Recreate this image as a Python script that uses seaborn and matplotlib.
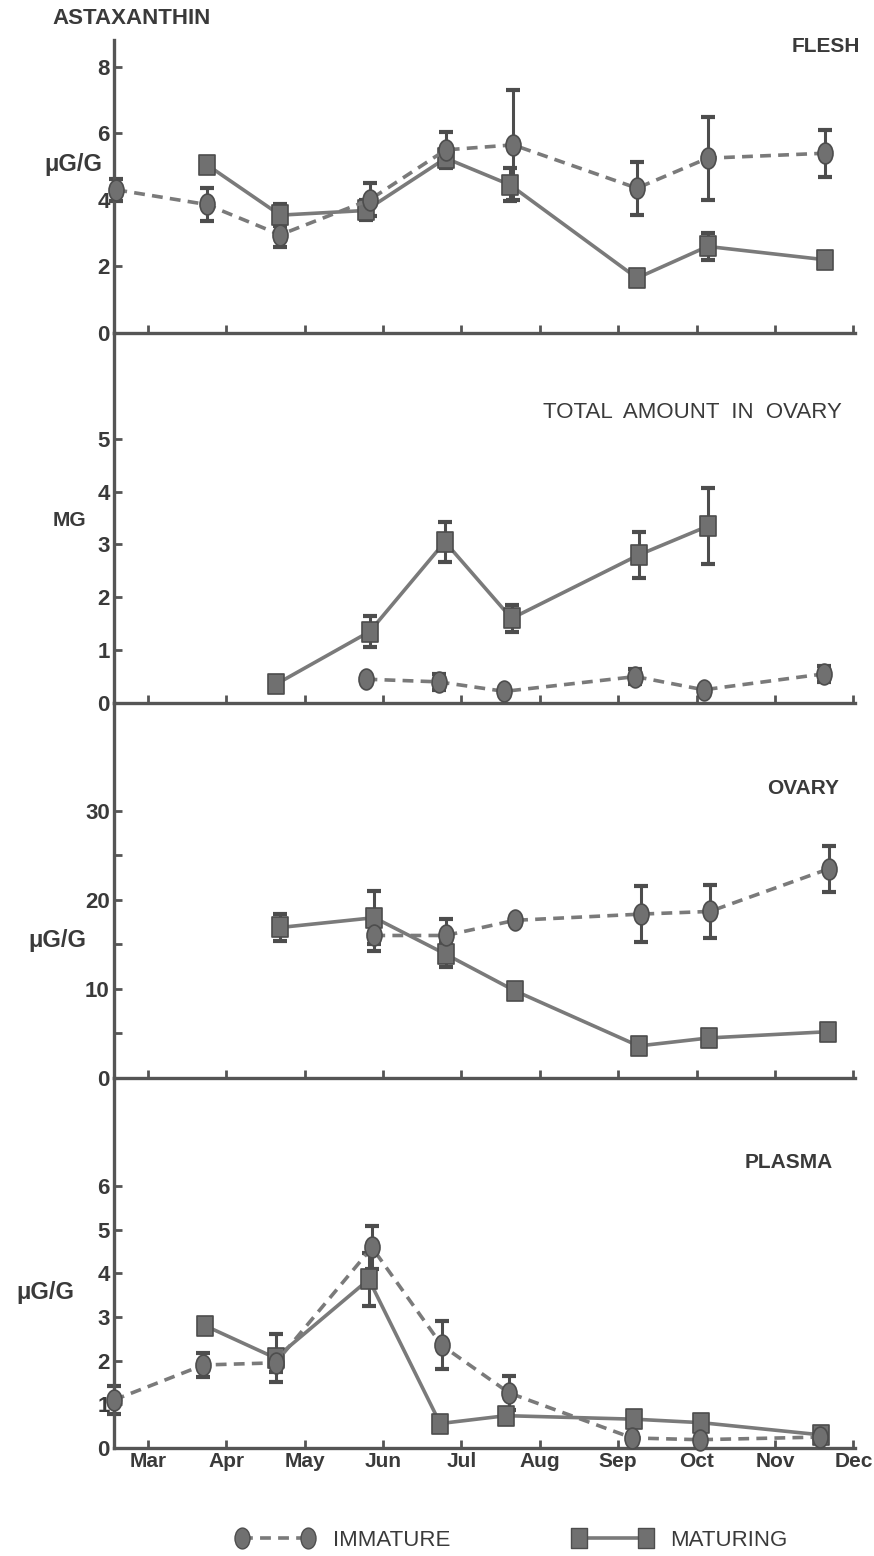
import numpy as np
import matplotlib
matplotlib.use('Agg')
import matplotlib.pyplot as plt
import matplotlib.transforms as mtrans
from matplotlib.path import Path
from matplotlib.lines import Line2D
import seaborn as sns

# month axis (3 = Mar ... 12 = Dec), sample dates are fractional months
month_ticks = [3, 4, 5, 6, 7, 8, 9, 10, 11, 12]
month_labels = ['Mar', 'Apr', 'May', 'Jun', 'Jul', 'Aug', 'Sep', 'Oct', 'Nov', 'Dec']

# FLESH (ug/g)
flesh_imm_x = [2.6, 3.75, 4.69, 5.83, 6.8, 7.66, 9.24, 10.14, 11.64]
flesh_imm_y = [4.3, 3.86, 2.95, 4.0, 5.5, 5.65, 4.35, 5.25, 5.4]
flesh_imm_e = [0.33, 0.5, 0.38, 0.5, 0.55, 1.65, 0.8, 1.25, 0.7]
flesh_mat_x = [3.75, 4.69, 5.78, 6.8, 7.62, 9.24, 10.14, 11.64]
flesh_mat_y = [5.06, 3.54, 3.68, 5.25, 4.45, 1.65, 2.6, 2.2]
flesh_mat_e = [0, 0.34, 0.3, 0, 0.5, 0, 0.4, 0]

# TOTAL AMOUNT IN OVARY (mg)
total_imm_x = [5.79, 6.71, 7.55, 9.22, 10.09, 11.62]
total_imm_y = [0.45, 0.4, 0.22, 0.5, 0.25, 0.55]
total_imm_e = [0, 0.15, 0, 0.15, 0, 0.15]
total_mat_x = [4.63, 5.83, 6.79, 7.64, 9.26, 10.15]
total_mat_y = [0.35, 1.35, 3.05, 1.6, 2.8, 3.35]
total_mat_e = [0, 0.3, 0.38, 0.25, 0.43, 0.72]

# OVARY (ug/g)
ovary_imm_x = [5.89, 6.8, 7.68, 9.29, 10.17, 11.69]
ovary_imm_y = [16.0, 16.0, 17.7, 18.4, 18.7, 23.5]
ovary_imm_e = [1.7, 1.9, 0, 3.1, 3.0, 2.6]
ovary_mat_x = [4.69, 5.89, 6.8, 7.68, 9.26, 10.16, 11.68]
ovary_mat_y = [16.9, 18.0, 13.9, 9.8, 3.6, 4.5, 5.2]
ovary_mat_e = [1.5, 3.0, 1.4, 0, 0, 0, 0]

# PLASMA (ug/g)
plasma_imm_x = [2.57, 3.71, 4.63, 5.86, 6.75, 7.61, 9.18, 10.04, 11.57]
plasma_imm_y = [1.1, 1.9, 1.95, 4.59, 2.35, 1.26, 0.23, 0.19, 0.25]
plasma_imm_e = [0.32, 0.28, 0.2, 0.5, 0.55, 0.38, 0, 0, 0]
plasma_mat_x = [3.73, 4.63, 5.82, 6.73, 7.57, 9.2, 10.06, 11.59]
plasma_mat_y = [2.8, 2.06, 3.86, 0.56, 0.74, 0.66, 0.58, 0.3]
plasma_mat_e = [0, 0.54, 0.6, 0, 0, 0, 0, 0]

W, H = 874, 1556
INK = '#3a3a3a'
LINE = '#7a7a7a'
FILL = '#707070'
EDGE = '#4d4d4d'

ellipse = Path.unit_circle().transformed(mtrans.Affine2D().scale(0.72, 1.0))
rect = Path([(-0.4, -0.5), (0.4, -0.5), (0.4, 0.5), (-0.4, 0.5), (-0.4, -0.5)],
            [Path.MOVETO, Path.LINETO, Path.LINETO, Path.LINETO, Path.CLOSEPOLY])

sns.set_style('ticks')
plt.rcParams['font.family'] = ['Liberation Sans', 'DejaVu Sans']

fig = plt.figure(figsize=(W / 100, H / 100), dpi=100)


def px_text(x, y, s, ha='left', size=14, weight='bold'):
    fig.text(x / W, 1 - y / H, s, ha=ha, va='center', fontsize=size,
             fontweight=weight, color=INK)


def draw_series(ax, xs, ys, es, dashed):
    xs, ys, es = np.array(xs), np.array(ys), np.array(es)
    m = es > 0
    ax.errorbar(xs[m], ys[m], yerr=es[m], fmt='none', ecolor=EDGE,
                elinewidth=2.2, capsize=5, capthick=3, zorder=2, clip_on=False)
    sns.lineplot(x=xs, y=ys, ax=ax, sort=False, color=LINE, lw=2.6,
                 linestyle=(0, (3, 2)) if dashed else '-',
                 marker=ellipse if dashed else rect,
                 markersize=15 if dashed else 14,
                 markerfacecolor=FILL, markeredgecolor=EDGE, markeredgewidth=1.2,
                 zorder=3, clip_on=False)


# panel extents in pixels: (top, bottom), ylim top, ticks, tick labels
panels = [
    (40, 333, 8.8, [0, 2, 4, 6, 8], ['0', '2', '4', '6', '8'],
     flesh_imm_x, flesh_imm_y, flesh_imm_e, flesh_mat_x, flesh_mat_y, flesh_mat_e),
    (333, 703, 7.0, [0, 1, 2, 3, 4, 5], ['0', '1', '2', '3', '4', '5'],
     total_imm_x, total_imm_y, total_imm_e, total_mat_x, total_mat_y, total_mat_e),
    (703, 1078, 42.1, [0, 5, 10, 15, 20, 25, 30], ['0', '', '10', '', '20', '', '30'],
     ovary_imm_x, ovary_imm_y, ovary_imm_e, ovary_mat_x, ovary_mat_y, ovary_mat_e),
    (1078, 1448, 8.47, [0, 1, 2, 3, 4, 5, 6], ['0', '1', '2', '3', '4', '5', '6'],
     plasma_imm_x, plasma_imm_y, plasma_imm_e, plasma_mat_x, plasma_mat_y, plasma_mat_e),
]

left_px, right_px = 114, 855
axes = []
for i, (top, bot, ytop, yt, ytl, ix, iy, ie, mx, my, me) in enumerate(panels):
    ax = fig.add_axes([left_px / W, 1 - bot / H, (right_px - left_px) / W, (bot - top) / H])
    ax.set_facecolor('none')
    draw_series(ax, mx, my, me, dashed=False)
    draw_series(ax, ix, iy, ie, dashed=True)
    ax.set_xlim(2.57, 12.02)
    ax.set_ylim(0, ytop)
    sns.despine(ax=ax)
    for sp in ['left', 'bottom']:
        ax.spines[sp].set_linewidth(2.4)
        ax.spines[sp].set_color('#555555')
    ax.set_yticks(yt)
    ax.set_yticklabels(ytl)
    ax.set_xticks(month_ticks)
    ax.tick_params(axis='both', direction='in', length=6, width=2, color='#555555',
                   labelsize=16, labelcolor=INK, pad=3)
    for lab in ax.get_yticklabels():
        lab.set_fontweight('bold')
    if i < 3:
        ax.set_xticklabels([])
    else:
        ax.set_xticklabels(month_labels, fontweight='bold', fontsize=15)
    ax.set_xlabel('')
    ax.set_ylabel('')
    axes.append(ax)

px_text(52, 18, 'ASTAXANTHIN', size=16)
px_text(860, 46, 'FLESH', ha='right', size=15)
px_text(73, 165, 'μG/G', ha='center', size=17)
px_text(842, 413, 'TOTAL  AMOUNT  IN  OVARY', ha='right', size=16, weight='normal')
px_text(69, 520, 'MG', ha='center', size=15)
px_text(839, 788, 'OVARY', ha='right', size=15)
px_text(57, 940, 'μG/G', ha='center', size=17)
px_text(833, 1162, 'PLASMA', ha='right', size=15)
px_text(45, 1292, 'μG/G', ha='center', size=17)

handles = [
    Line2D([0], [0], color=LINE, lw=2.6, linestyle=(0, (3, 2)), marker=ellipse,
           markersize=15, markerfacecolor=FILL, markeredgecolor=EDGE),
    Line2D([0], [0], color=LINE, lw=2.6, linestyle='-', marker=rect,
           markersize=14, markerfacecolor=FILL, markeredgecolor=EDGE),
]
leg = fig.legend(handles, ['IMMATURE', 'MATURING'], loc='center',
                 bbox_to_anchor=(0.585, 1 - 1540 / H), ncol=2, frameon=False,
                 numpoints=2, handlelength=3.6, handletextpad=0.8,
                 columnspacing=5.5, fontsize=16)
for t in leg.get_texts():
    t.set_color(INK)

fig.savefig('out.png', dpi=100, facecolor='white')
